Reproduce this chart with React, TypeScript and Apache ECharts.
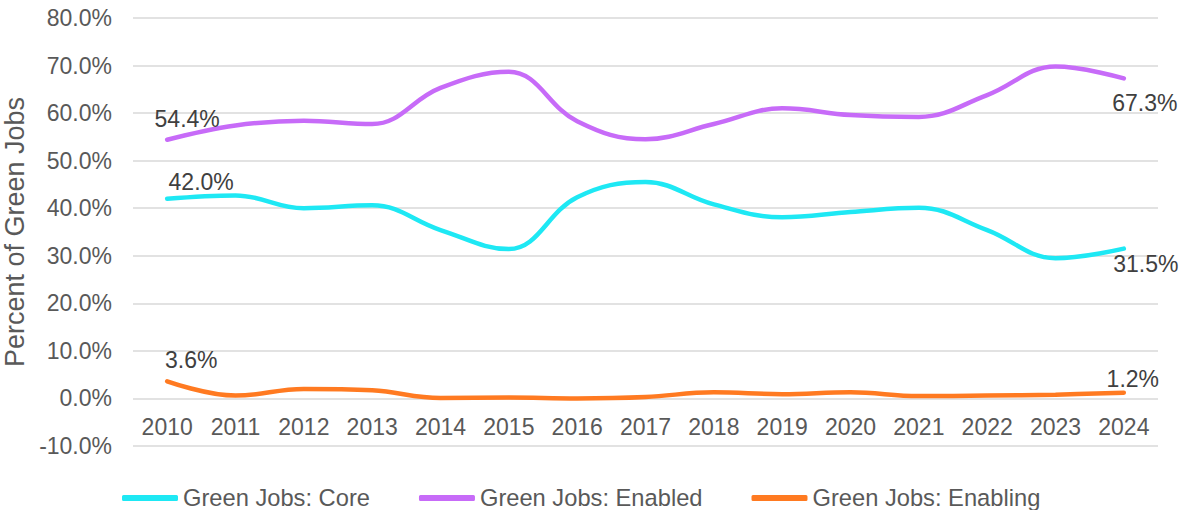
import React, { useEffect, useRef } from "react";
import * as echarts from "echarts";

const years = ["2010","2011","2012","2013","2014","2015","2016","2017","2018","2019","2020","2021","2022","2023","2024"];
const core = [42.0, 42.7, 40.0, 40.6, 35.4, 31.4, 42.3, 45.5, 40.8, 38.1, 39.2, 40.1, 35.4, 29.5, 31.5];
const enabled = [54.4, 57.4, 58.4, 57.7, 65.3, 68.7, 58.3, 54.5, 57.7, 61.0, 59.6, 59.2, 63.8, 69.8, 67.3];
const enabling = [3.6, 0.6, 2.0, 1.7, 0.1, 0.2, 0.0, 0.3, 1.3, 0.9, 1.3, 0.5, 0.6, 0.8, 1.2];
const seriesNames = ["Green Jobs: Core", "Green Jobs: Enabled", "Green Jobs: Enabling"];
const colors = ["#1ee8f4", "#c76bf8", "#ff7a21"];
const yMin = -10;
const yMax = 80;

const FONT = "Liberation Sans, Arial, sans-serif";
const GRID_TOP = 18;
const GRID_BOTTOM = 64;
const CHART_H = 510;

function withLabels(values: number[], first: any, last: any) {
  return values.map((v, i) => {
    if (i === 0) return { value: v, label: { show: true, ...first } };
    if (i === values.length - 1) return { value: v, label: { show: true, ...last } };
    return { value: v };
  });
}

export default function App() {
  const ref = useRef<HTMLDivElement>(null);
  useEffect(() => {
    if (!ref.current) return;
    const chart = echarts.init(ref.current, undefined, { renderer: "svg" });
    const plotH = CHART_H - GRID_TOP - GRID_BOTTOM;
    const zeroOffset = -(0 - yMin) / (yMax - yMin) * plotH;
    const labelStyle = {
      show: false,
      color: "#404040",
      fontSize: 23,
      fontFamily: FONT,
      formatter: (p: any) => Number(p.value).toFixed(1) + "%",
    };
    const mkSeries = (i: number, values: number[], first: any, last: any) => ({
      name: seriesNames[i],
      type: "line",
      smooth: 0.4,
      symbol: "circle",
      symbolSize: 1,
      showSymbol: true,
      lineStyle: { color: colors[i], width: 4.5, cap: "round" },
      itemStyle: { color: colors[i] },
      label: labelStyle,
      emphasis: { disabled: true },
      data: withLabels(values, first, last),
    });
    chart.setOption({
      animation: false,
      backgroundColor: "#ffffff",
      grid: {
        left: 133,
        right: 22,
        top: GRID_TOP,
        bottom: GRID_BOTTOM,
        containLabel: false,
        outerBoundsMode: "none",
      },
      legend: {
        top: 481,
        left: 117,
        itemWidth: 56,
        itemHeight: 6,
        itemGap: 49,
        icon: "roundRect",
        textStyle: { color: "#595959", fontSize: 23.7, fontFamily: FONT },
        data: seriesNames,
      },
      xAxis: {
        type: "category",
        data: years,
        boundaryGap: true,
        offset: zeroOffset,
        axisLine: { show: false, onZero: false },
        axisTick: { show: false },
        axisLabel: { color: "#595959", fontSize: 23, fontFamily: FONT, margin: 17 },
      },
      yAxis: {
        type: "value",
        min: yMin,
        max: yMax,
        interval: 10,
        name: "Percent of Green Jobs",
        nameLocation: "middle",
        nameGap: 104,
        nameTextStyle: { color: "#595959", fontSize: 27, fontFamily: FONT },
        axisLine: { show: false },
        axisTick: { show: false },
        splitLine: { lineStyle: { color: "#d9d9d9", width: 1.5 } },
        axisLabel: {
          color: "#595959",
          fontSize: 23,
          fontFamily: FONT,
          margin: 21,
          formatter: (v: number) => v.toFixed(1) + "%",
        },
      },
      series: [
        mkSeries(0, core, { position: "top", offset: [34, 0] }, { position: "bottom", offset: [22, -2] }),
        mkSeries(1, enabled, { position: "top", offset: [20, -4] }, { position: "bottom", offset: [21, 8] }),
        mkSeries(2, enabling, { position: "top", offset: [24, -4] }, { position: "top", offset: [9, 3] }),
      ],
    });
    return () => chart.dispose();
  }, []);
  return (
    <div
      ref={ref}
      style={{ position: "fixed", left: 0, top: 0, width: 1180, height: 510, background: "#fff" }}
    />
  );
}
